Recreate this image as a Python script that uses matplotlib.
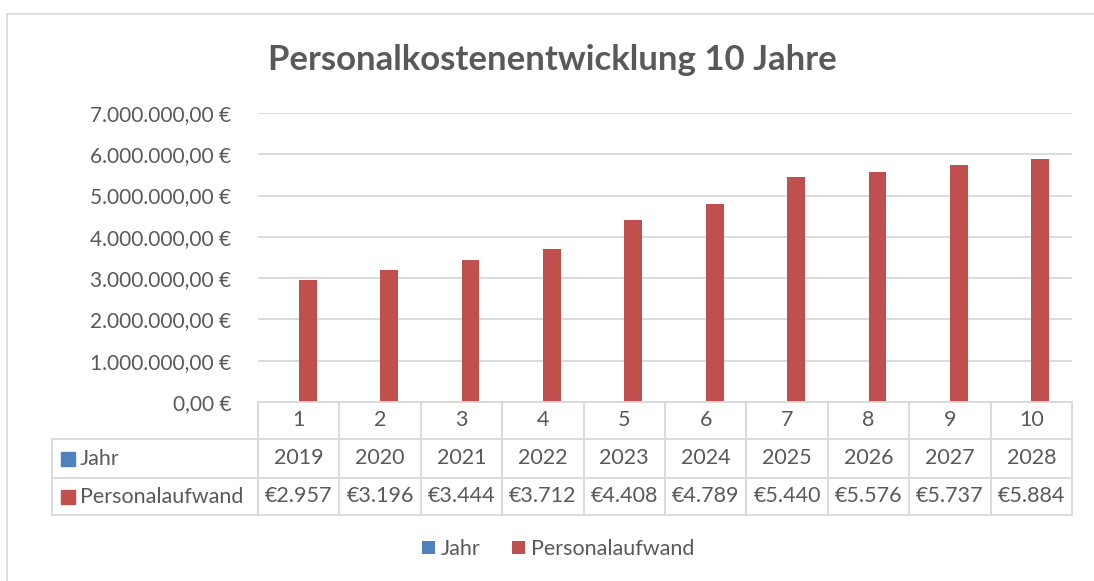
import numpy as np
import matplotlib.pyplot as plt
from matplotlib.patches import Rectangle
from matplotlib.lines import Line2D

plt.rcParams['font.family'] = ['Lato', 'DejaVu Sans']

# data
kategorien = ['1', '2', '3', '4', '5', '6', '7', '8', '9', '10']
jahr = [2019, 2020, 2021, 2022, 2023, 2024, 2025, 2026, 2027, 2028]
personalaufwand = [2957000, 3196000, 3444000, 3712000, 4408000,
                   4789000, 5440000, 5576000, 5737000, 5884000]

blau = '#4F81BD'
rot = '#C0504D'
grau_text = '#595959'
grau_linie = '#D9D9D9'

W, H = 1094, 581
fig = plt.figure(figsize=(W / 100, H / 100), dpi=100)


def fx(px):
    return px / W


def fy(py):
    return 1 - py / H


# chart frame (only left and top visible)
fig.add_artist(Line2D([fx(7), fx(7)], [fy(14), fy(581)], color=grau_linie, lw=1.2, transform=fig.transFigure))
fig.add_artist(Line2D([fx(7), fx(1094)], [fy(14), fy(14)], color=grau_linie, lw=1.2, transform=fig.transFigure))

ax = fig.add_axes([fx(258), fy(402), fx(1072 - 258), (402 - 113) / H])
x = np.arange(len(kategorien))
breite = 0.22
b_jahr = ax.bar(x - breite / 2, jahr, breite, color=blau, label='Jahr')
b_pers = ax.bar(x + breite / 2, personalaufwand, breite, color=rot, label='Personalaufwand')

ax.set_xlim(-0.5, len(kategorien) - 0.5)
ax.set_ylim(0, 7000000)
ax.set_yticks(np.arange(0, 7000001, 1000000))
ax.set_yticklabels([f'{v:,.2f} €'.replace(',', 'X').replace('.', ',').replace('X', '.')
                    for v in np.arange(0, 7000001, 1000000)])
ax.tick_params(axis='y', length=0, pad=19, labelsize=15, labelcolor=grau_text)
ax.set_xticks([])
ax.grid(axis='y', color=grau_linie, lw=1.3)
ax.set_axisbelow(True)
for s in ax.spines.values():
    s.set_visible(False)

fig.text(fx(552), fy(60), 'Personalkostenentwicklung 10 Jahre', ha='center', va='center',
         fontsize=25, fontweight='bold', color=grau_text)

# data table under the axis
tr = ax.get_xaxis_transform()
rows = [0, -37 / 289, -76 / 289, -113 / 289]
x_links = -0.5 + (52 - 258) / 81.4
x_ende = len(kategorien) - 0.5
lk = dict(color=grau_linie, lw=1.3, transform=tr, clip_on=False)

ax.plot([-0.5, x_ende], [rows[0], rows[0]], **lk)
for r in rows[1:]:
    ax.plot([x_links, x_ende], [r, r], **lk)
ax.plot([x_links, x_links], [rows[1], rows[3]], **lk)
for xv in np.arange(-0.5, x_ende + 0.01, 1):
    ax.plot([xv, xv], [rows[0], rows[3]], **lk)

tk = dict(transform=tr, ha='center', va='center', fontsize=15.5, color=grau_text, clip_on=False)
for i in range(len(kategorien)):
    ax.text(x[i], (rows[0] + rows[1]) / 2, kategorien[i], **tk)
    ax.text(x[i], (rows[1] + rows[2]) / 2, str(jahr[i]), **tk)
    ax.text(x[i], (rows[2] + rows[3]) / 2, f'€{personalaufwand[i] / 1e6:.3f}', **tk)

for name, farbe, yc in [('Jahr', blau, 459), ('Personalaufwand', rot, 497)]:
    fig.add_artist(Rectangle((fx(61), fy(yc + 7)), fx(14), 14 / H, color=farbe, transform=fig.transFigure))
    fig.text(fx(80), fy(yc), name, ha='left', va='center', fontsize=15.5, color=grau_text)

fig.legend(handles=[b_jahr, b_pers], loc='center', bbox_to_anchor=(fx(558), fy(549)), ncol=2,
           frameon=False, fontsize=15.5, labelcolor=grau_text, handlelength=0.6, handleheight=0.6,
           handletextpad=0.25, columnspacing=1.5)

fig.savefig('out.png', dpi=100)
